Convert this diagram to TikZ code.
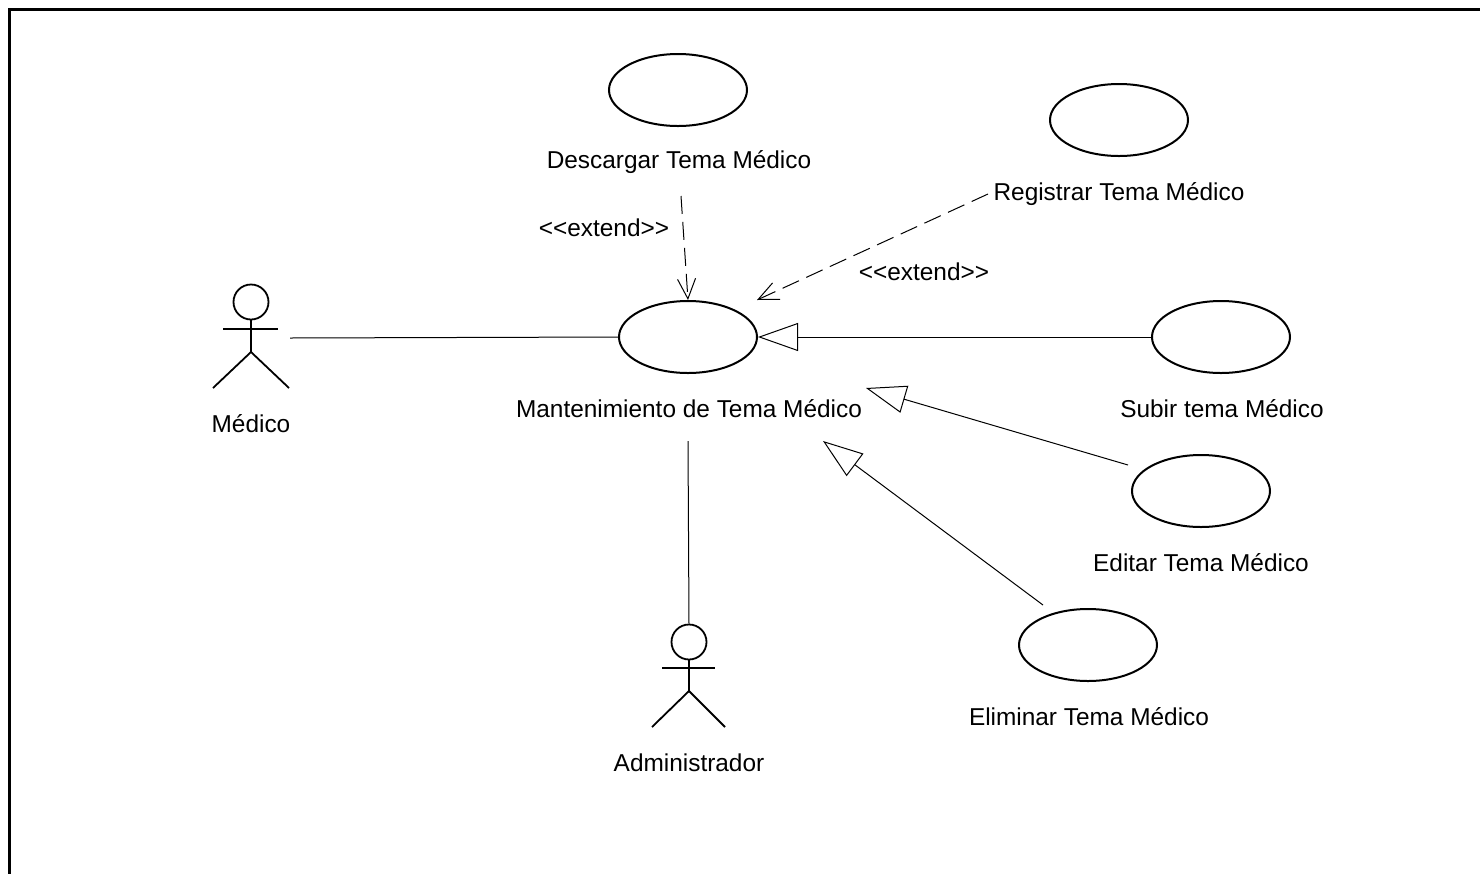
\documentclass[tikz,border=0pt]{standalone}
\usepackage{fontspec}
\setmainfont{Liberation Sans}
\usetikzlibrary{shapes.geometric,arrows.meta}
\tikzset{
  usecase/.style={draw, ellipse, minimum width=69pt, minimum height=36pt, inner sep=0pt, line width=1pt, fill=white},
  lbl/.style={font=\fontsize{12.2}{14}\selectfont, inner sep=1pt},
  head/.style={draw, circle, minimum size=17.5pt, inner sep=0pt, line width=0.9pt},
  limb/.style={line width=0.9pt},
  assoc/.style={line width=0.5pt},
  ext/.style={line width=0.5pt, dash pattern=on 9pt off 4pt, -{Straight Barb[length=10pt,width=9pt,line width=0.5pt]}},
  gen/.style={line width=0.5pt, -{Triangle[open,length=20pt,width=14pt,line width=0.5pt]}},
  frame/.style={line width=1.5pt}
}
\begin{document}
\begin{tikzpicture}[x=0.5pt,y=-0.5pt]
\useasboundingbox (0,0) rectangle (1480,874);
% frame
\draw[frame] (9,874) -- (9,9.5) -- (1480,9.5);

% use cases
\node[usecase] (desc) at (678,90) {};
\node[lbl] (descl) at (679,162) {Descargar Tema Médico};
\node[usecase] (reg) at (1119,120) {};
\node[lbl] (regl) at (1119,194) {Registrar Tema Médico};
\node[usecase] (mant) at (688,337) {};
\node[lbl] (mantl) at (689,409) {Mantenimiento de Tema Médico};
\node[usecase] (sub) at (1221,337) {};
\node[lbl] (subl) at (1222,409) {Subir tema Médico};
\node[usecase] (ed) at (1201,491) {};
\node[lbl] (edl) at (1201,563) {Editar Tema Médico};
\node[usecase] (el) at (1088,645) {};
\node[lbl] (ell) at (1089,717) {Eliminar Tema Médico};

% actor Medico
\node[head] (med) at (251,302) {};
\draw[limb] (med.south) -- (251,352) coordinate (medhip);
\draw[limb] (223,329) -- (278,329);
\draw[limb] (213,388) -- (medhip) -- (289,388);
\node[lbl] (medl) at (251,424) {Médico};

% actor Administrador
\node[head] (adm) at (689,642) {};
\draw[limb] (adm.south) -- (689,691) coordinate (admhip);
\draw[limb] (662,668) -- (715,668);
\draw[limb] (652,727) -- (admhip) -- (725,727);
\node[lbl] (adml) at (689,763) {Administrador};

% coordinates
\coordinate (medR) at (290,338);
\coordinate (admTop) at (688,441);
\coordinate (descS) at (681,196);
\coordinate (regW) at (988,194);
\coordinate (regtip) at (757,300);
\coordinate (edtip) at (866,388);
\coordinate (eltip) at (823,441);
\coordinate (edst) at (1128,465);
\coordinate (elst) at (1043,605);

% associations
\draw[assoc] (medR) -- (mant.west);
\draw[assoc] (admTop) -- (adm.north);

% extends
\draw[ext] (descS) -- (mant.north);
\node[lbl] (ext1) at (604,228) {{<}{<}extend{>}{>}};
\draw[ext] (regW) -- (regtip);
\node[lbl] (ext2) at (924,272) {{<}{<}extend{>}{>}};

% generalizations
\draw[gen] (sub.west) -- (mant.east);
\draw[gen] (edst) -- (edtip);
\draw[gen] (elst) -- (eltip);
\end{tikzpicture}
\end{document}
